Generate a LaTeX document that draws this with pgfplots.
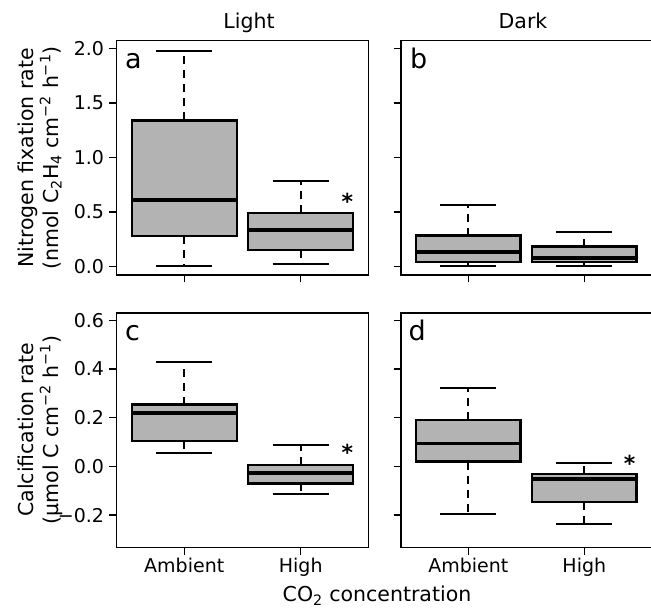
\documentclass[border=0pt]{standalone}
\usepackage{fontspec}
\setmainfont{DejaVu Sans}
\usepackage{pgfplots}
\pgfplotsset{compat=1.18}
\usepgfplotslibrary{statistics}
\definecolor{boxgray}{RGB}{179,179,179}
\newcommand\tickfont{\fontsize{19}{22}\selectfont}
\newcommand\labfont{\fontsize{20.5}{24}\selectfont}
\newcommand\letfont{\fontsize{27}{30}\selectfont}
\newcommand\starfont{\fontsize{22}{24}\selectfont\bfseries}
\pgfplotsset{
  panel/.style={
    scale only axis,
    height=234.4pt,
    xmin=0.42, xmax=2.58,
    xtick={1,2},
    tick align=outside,
    tick pos=left,
    major tick length=7.5pt,
    axis line style={line width=1.4pt},
    every tick/.style={black, line width=1.4pt},
    ticklabel style={font=\tickfont},
    yticklabel style={inner sep=0pt, xshift=-5pt},
    xticklabel style={anchor=base, inner sep=0pt, yshift=-18pt},
    clip=false,
  },
  toprow/.style={ymin=-0.078, ymax=2.073, ytick={0,0.5,1,1.5,2}, xticklabels={}},
  botrow/.style={ymin=-0.332, ymax=0.63, ytick={-0.2,0,0.2,0.4,0.6}, xticklabels={Ambient,High}},
  bx/.style={
    draw=black, fill=boxgray, line width=2.3pt,
    boxplot/draw direction=y,
    boxplot/box extend=0.9,
    boxplot/whisker extend=0.483,
    boxplot/every median/.style={line width=3.8pt},
    boxplot/draw/lower whisker/.code={%
      \draw[fill=none, line width=1.9pt, dash pattern=on 8pt off 6pt]
        (boxplot box cs:\pgfplotsboxplotvalue{lower quartile},0.5) --
        (boxplot box cs:\pgfplotsboxplotvalue{lower whisker},0.5);
      \draw[fill=none, solid, line width=2pt]
        (boxplot whisker cs:\pgfplotsboxplotvalue{lower whisker},0) --
        (boxplot whisker cs:\pgfplotsboxplotvalue{lower whisker},1);
    },
    boxplot/draw/upper whisker/.code={%
      \draw[fill=none, line width=1.9pt, dash pattern=on 8pt off 6pt]
        (boxplot box cs:\pgfplotsboxplotvalue{upper quartile},0.5) --
        (boxplot box cs:\pgfplotsboxplotvalue{upper whisker},0.5);
      \draw[fill=none, solid, line width=2pt]
        (boxplot whisker cs:\pgfplotsboxplotvalue{upper whisker},0) --
        (boxplot whisker cs:\pgfplotsboxplotvalue{upper whisker},1);
    },
  },
}
\begin{document}
\begin{tikzpicture}
\useasboundingbox (0pt,0pt) rectangle (651pt,609pt);

% Panel a
\begin{axis}[panel, toprow, at={(116.7pt,334pt)}, anchor=south west, width=251.6pt,
  yticklabels={0.0,0.5,1.0,1.5,2.0}]
\addplot[bx, boxplot prepared={draw position=1, lower whisker=0.005, lower quartile=0.279,
  median=0.612, upper quartile=1.34, upper whisker=1.98}] coordinates {};
\addplot[bx, boxplot prepared={draw position=2, lower whisker=0.025, lower quartile=0.153,
  median=0.337, upper quartile=0.49, upper whisker=0.78}] coordinates {};
\node[font=\starfont, anchor=base, inner sep=0pt] at (axis cs:2.40,0.52) {*};
\end{axis}

% Panel b
\begin{axis}[panel, toprow, at={(401pt,334pt)}, anchor=south west, width=250.6pt,
  yticklabels={}]
\addplot[bx, boxplot prepared={draw position=1, lower whisker=0.0, lower quartile=0.04,
  median=0.132, upper quartile=0.284, upper whisker=0.566}] coordinates {};
\addplot[bx, boxplot prepared={draw position=2, lower whisker=0.0, lower quartile=0.04,
  median=0.077, upper quartile=0.183, upper whisker=0.315}] coordinates {};
\end{axis}

% Panel c
\begin{axis}[panel, botrow, at={(116.7pt,61.7pt)}, anchor=south west, width=251.6pt,
  yticklabels={−0.2,0.0,0.2,0.4,0.6}]
\addplot[bx, boxplot prepared={draw position=1, lower whisker=0.057, lower quartile=0.104,
  median=0.22, upper quartile=0.254, upper whisker=0.429}] coordinates {};
\addplot[bx, boxplot prepared={draw position=2, lower whisker=-0.115, lower quartile=-0.07,
  median=-0.026, upper quartile=0.007, upper whisker=0.086}] coordinates {};
\node[font=\starfont, anchor=base, inner sep=0pt] at (axis cs:2.40,0.023) {*};
\end{axis}

% Panel d
\begin{axis}[panel, botrow, at={(401pt,61.7pt)}, anchor=south west, width=250.6pt,
  yticklabels={}]
\addplot[bx, boxplot prepared={draw position=1, lower whisker=-0.197, lower quartile=0.02,
  median=0.094, upper quartile=0.19, upper whisker=0.322}] coordinates {};
\addplot[bx, boxplot prepared={draw position=2, lower whisker=-0.238, lower quartile=-0.146,
  median=-0.052, upper quartile=-0.032, upper whisker=0.014}] coordinates {};
\node[font=\starfont, anchor=base, inner sep=0pt] at (axis cs:2.39,-0.022) {*};
\end{axis}

% panel letters
\node[font=\letfont, anchor=base west, inner sep=0pt] at (125pt,540pt) {a};
\node[font=\letfont, anchor=base west, inner sep=0pt] at (410pt,540pt) {b};
\node[font=\letfont, anchor=base west, inner sep=0pt] at (125pt,268.5pt) {c};
\node[font=\letfont, anchor=base west, inner sep=0pt] at (408.5pt,268.5pt) {d};

% titles
\node[font=\labfont, anchor=base, inner sep=0pt] at (249pt,580.7pt) {Light};
\node[font=\labfont, anchor=base, inner sep=0pt] at (523pt,580.7pt) {Dark};

% y labels
\node[font=\labfont, rotate=90, anchor=base, inner sep=0pt] at (33.3pt,451pt) {Nitrogen fixation rate};
\node[font=\labfont, rotate=90, anchor=base, inner sep=0pt] at (58pt,451pt) {(nmol C\textsubscript{2}H\textsubscript{4} cm\textsuperscript{−2} h\textsuperscript{−1})};
\node[font=\labfont, rotate=90, anchor=base, inner sep=0pt] at (33.3pt,179pt) {Calcification rate};
\node[font=\labfont, rotate=90, anchor=base, inner sep=0pt] at (58pt,179pt) {(µmol C cm\textsuperscript{−2} h\textsuperscript{−1})};

% x label
\node[font=\labfont, anchor=base, inner sep=0pt] at (377pt,7pt) {CO\textsubscript{2} concentration};
\end{tikzpicture}
\end{document}
